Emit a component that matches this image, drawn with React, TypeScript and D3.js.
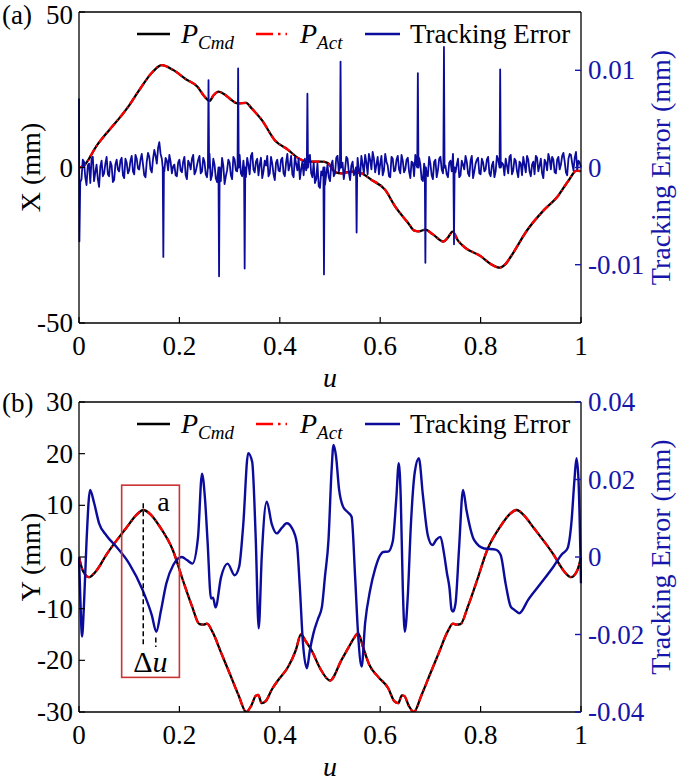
import React from 'react';
import * as d3 from 'd3';

// ---------- tick values ----------
const xTicks = [0, 0.2, 0.4, 0.6, 0.8, 1];
const xTickLabels = ['0', '0.2', '0.4', '0.6', '0.8', '1'];
const topLeftTicks = [-50, 0, 50];
const topRightTicks = [-0.01, 0, 0.01];
const topRightTickLabels = ['-0.01', '0', '0.01'];
const botLeftTicks = [-30, -20, -10, 0, 10, 20, 30];
const botRightTicks = [-0.04, -0.02, 0, 0.02, 0.04];
const botRightTickLabels = ['-0.04', '-0.02', '0', '0.02', '0.04'];

// ---------- panel (a): X position ----------
const xPosU = [0, 0.007, 0.014, 0.034, 0.06, 0.08, 0.1, 0.12, 0.147, 0.165, 0.187, 0.213, 0.236, 0.25, 0.26, 0.268, 0.278, 0.29, 0.3, 0.316, 0.333, 0.344, 0.364, 0.39, 0.417, 0.437, 0.457, 0.483, 0.495, 0.51, 0.523, 0.543, 0.563, 0.583, 0.61, 0.63, 0.656, 0.667, 0.677, 0.69, 0.705, 0.726, 0.735, 0.744, 0.755, 0.767, 0.8, 0.82, 0.838, 0.85, 0.86, 0.893, 0.926, 0.953, 0.976, 0.991, 1.0];
const xPosV = [0, 0.3, 1.4, 6.7, 12, 15.8, 20, 24.9, 30.8, 32.9, 31.4, 28.4, 26, 22.8, 21.4, 23.2, 24.4, 23.5, 22.2, 20.6, 20.8, 19, 15.3, 8.8, 5.6, 3, 1.9, 1.9, 1.5, -1.5, -1.9, -1.3, -1.9, -4, -7.2, -12.6, -17.9, -20.2, -20.5, -20.0, -21.5, -23.8, -22.5, -20.6, -23.5, -25.5, -28.5, -31, -32.2, -31, -28.7, -20.1, -13.7, -9.4, -4, -1, -1.2];

// tracking error noise (units of 1e-4 mm), sampled at u = i*0.005
const xErrNoise = [
  0, -12, 6, -18, 4, 9, -14, 3, -20, 7,
  -6, 11, -9, 2, -13, 8, -4, 10, -11, 5,
  -3, 12, -7, 9, -2, 14, -8, 6, 11, -5,
  18, 4, 26, 9, -4, 7, 13, -6, 3, -9,
  8, -5, 11, -12, 4, 9, -7, 2, 12, -4,
  6, -10, 14, -8, 3, -15, -6, 10, -17, -3,
  5, -12, 8, -4, 13, -9, 2, 10, -7, 15,
  -5, 9, 3, -11, 7, 12, -6, 4, -13, 8,
  -4, 10, -9, 14, 2, -7, 11, -3, -12, 6,
  9, -5, 13, -10, -16, 4, -21, -8, -18, 3,
  -14, 7, -6, 12, -11, 5, -2, 9, -13, 6,
  -4, 10, -9, 3, 13, -7, 8, 16, -5, 11,
  4, -8, 14, 2, -10, 9, -3, 12, -6, 7,
  -2, 10, -11, 5, 13, -7, 3, -14, 6, -9,
  4, -12, 8, -3, 11, -6, 2, -10, 7, 14,
  -5, 9, -8, 3, 12, -6, 7, -11, 4, 10,
  -7, 5, -2, 11, -9, 6, -4, 8, -12, 3,
  9, -6, 13, -3, 7, -10, 4, 11, -5, 8,
  -9, 6, 12, -4, 9, -11, 5, 14, -2, 8,
  -6, 11, 3, 15, -5, 9, 13, -3, 16, 7,
  0,
];
// in-between noise samples (units of 1e-4 mm), at u = 0.0025 + i*0.005
const xErrNoiseMid = [
  -15, 8, -10, 2, -16, 11, -5, -12, 1, -9,
  4, -7, 6, -15, 3, -2, 7, -8, 9, -6,
  7, -4, 13, -1, 8, 3, -10, 15, -2, 9,
  12, 20, 14, -2, 10, -3, 6, 1, -8, 5,
  -3, 6, -8, 7, -2, 13, -4, 8, -6, 10,
  -7, 5, -13, 9, -11, -4, -14, 2, -9, 8,
  -8, 11, -3, 9, -6, 7, -10, 3, 12, -2,
  6, -8, 10, -4, 2, -9, 11, -7, 5, -3,
  8, -6, 5, -3, 12, -10, 4, 9, -2, -8,
  -3, 10, -6, 5, -12, -19, -4, -15, -7, -10,
  3, -9, 10, -4, 8, -12, 11, -5, 2, -8,
  7, -3, 12, -6, 5, 14, -2, 9, 3, -7,
  12, -3, 6, -9, 11, -4, 8, -2, 13, -5,
  8, -4, 6, -9, 2, 10, -12, 4, -6, 11,
  -8, 6, -10, 9, -2, 12, -7, 5, -4, 8,
  3, -10, 7, -2, 6, -9, 12, -4, 8, -6,
  9, -4, 8, -6, 2, -10, 12, -3, 5, -8,
  2, 11, -7, 9, -4, 6, -8, 3, 12, -4,
  3, -7, 10, 2, -6, 8, -3, 9, 11, -5,
  8, -2, 12, 6, -8, 14, 4, 10, -2, 5,
];
const xErrStep = 0.005;
const xErrStartU = [0, 0.0008];
const xErrStartE = [0.0071, -0.0076];
const xSpikeU = [0.168, 0.258, 0.279, 0.317, 0.33, 0.455, 0.488, 0.521, 0.553, 0.675, 0.69, 0.727, 0.747, 0.839];
const xSpikeE = [-0.0092, 0.009, -0.0112, 0.0102, -0.0104, 0.0076, -0.011, 0.0109, -0.0067, 0.0097, -0.0098, 0.0124, -0.0079, 0.0101];

// ---------- panel (b): Y position ----------
const yPosU = [0, 0.007, 0.02, 0.035, 0.055, 0.094, 0.115, 0.128, 0.142, 0.16, 0.187, 0.207, 0.225, 0.24, 0.248, 0.255, 0.266, 0.283, 0.3, 0.318, 0.333, 0.343, 0.352, 0.357, 0.364, 0.372, 0.385, 0.397, 0.417, 0.432, 0.442, 0.453, 0.463, 0.48, 0.5, 0.523, 0.537, 0.547, 0.556, 0.566, 0.578, 0.596, 0.616, 0.628, 0.636, 0.643, 0.648, 0.657, 0.667, 0.682, 0.7, 0.717, 0.734, 0.745, 0.752, 0.76, 0.775, 0.793, 0.813, 0.84, 0.858, 0.872, 0.885, 0.906, 0.945, 0.965, 0.98, 0.993, 1.0];
const yPosV = [0, -2.5, -3.9, -2.6, 0.5, 5.6, 8.2, 9.1, 8.3, 6.0, 1.3, -4.5, -9.5, -13.0, -13.1, -12.9, -14.5, -18.5, -22.5, -26.8, -30, -28.8, -26.9, -26.7, -28.3, -27.9, -25.5, -23.8, -21.2, -18, -15, -16.5, -18, -21.5, -23.9, -19.9, -17.5, -15.8, -14.8, -17.5, -20.8, -23.2, -25.4, -27.9, -28.3, -26.8, -26.9, -28.8, -30, -26.8, -22.5, -18.5, -14.5, -12.9, -13.1, -13.0, -9.5, -4.5, 1.3, 6.0, 8.3, 9.1, 8.2, 5.6, 0.5, -2.6, -3.9, -2.5, 0];

const yErrU = [0, 0.003, 0.006, 0.01, 0.015, 0.022, 0.03, 0.04, 0.055, 0.074, 0.1, 0.127, 0.145, 0.154, 0.163, 0.174, 0.188, 0.205, 0.215, 0.226, 0.237, 0.245, 0.251, 0.256, 0.263, 0.267, 0.272, 0.283, 0.296, 0.31, 0.319, 0.327, 0.337, 0.345, 0.352, 0.358, 0.364, 0.374, 0.384, 0.394, 0.404, 0.414, 0.424, 0.434, 0.44, 0.446, 0.454, 0.46, 0.467, 0.476, 0.484, 0.49, 0.497, 0.503, 0.507, 0.512, 0.518, 0.526, 0.536, 0.543, 0.55, 0.556, 0.563, 0.57, 0.58, 0.59, 0.6, 0.606, 0.616, 0.625, 0.632, 0.637, 0.641, 0.645, 0.649, 0.655, 0.661, 0.669, 0.677, 0.685, 0.695, 0.704, 0.712, 0.72, 0.727, 0.733, 0.738, 0.742, 0.745, 0.75, 0.757, 0.765, 0.772, 0.787, 0.807, 0.83, 0.84, 0.85, 0.86, 0.868, 0.877, 0.895, 0.92, 0.945, 0.962, 0.973, 0.981, 0.987, 0.991, 0.995, 1.0];
const yErrE = [0, -0.012, -0.0205, -0.012, 0.004, 0.0173, 0.014, 0.0087, 0.0055, 0.0027, -0.0017, -0.0086, -0.015, -0.0193, -0.014, -0.0068, -0.002, 0.0, -0.0008, -0.0017, 0.005, 0.0215, 0.015, 0.0043, -0.0107, -0.0105, -0.013, -0.0052, -0.0017, -0.0047, -0.0025, 0.008, 0.0268, 0.0245, 0.005, -0.0184, 0.0, 0.0143, 0.0085, 0.0061, 0.0075, 0.0087, 0.0075, 0.0035, -0.008, -0.022, -0.0287, -0.024, -0.0197, -0.016, -0.0128, -0.005, 0.0044, 0.022, 0.0289, 0.026, 0.0175, 0.013, 0.0115, 0.0104, -0.005, -0.02, -0.0283, -0.017, -0.0085, -0.003, 0.0005, 0.0013, 0.0014, 0.004, 0.015, 0.0242, 0.015, -0.008, -0.0193, -0.01, 0.008, 0.022, 0.0255, 0.016, 0.0055, 0.0031, 0.0045, 0.0052, 0.001, -0.0042, -0.008, -0.0135, -0.0141, -0.012, 0.002, 0.0173, 0.012, 0.0044, 0.0022, 0.0019, 0.0005, -0.007, -0.0128, -0.0137, -0.0145, -0.011, -0.0068, -0.0025, 0.0007, 0.0022, 0.009, 0.02, 0.0255, 0.02, -0.0068];

// annotation (panel b)
const boxU = [0.085, 0.2];
const boxV = [13.9, -23.3];
const peakU = 0.128;
const peakLineV = [10.4, -17.4];
const errMinU = 0.153;
const errMinLineV = [-15.6, -17.4];

// ---------- layout ----------
const W = 685, H = 781;
const L = 79, R = 581;
const FONT = 'Liberation Serif, Tinos, DejaVu Serif, Times New Roman, serif';
const BLUE = '#0c0c9c';
const BLUE_TXT = '#1616aa';

type Pt = [number, number];

function Panel(props: {
  top: number; bottom: number; leftDomain: [number, number]; rightDomain: [number, number];
  leftTicks: number[]; rightTicks: number[]; rightTickLabels: string[];
  posU: number[]; posV: number[]; errPts: Pt[]; errWidth: number; smoothErr: boolean;
  yLabel: string; tag: string; id: string; children?: (x: any, yl: any, yr: any) => React.ReactNode;
}) {
  const { top, bottom } = props;
  const x = d3.scaleLinear().domain([0, 1]).range([L, R]);
  const yl = d3.scaleLinear().domain(props.leftDomain).range([bottom, top]);
  const yr = d3.scaleLinear().domain(props.rightDomain).range([bottom, top]);
  const posPts: Pt[] = props.posU.map((u, i) => [u, props.posV[i]]);
  const posLine = d3.line<Pt>().x(d => x(d[0])).y(d => yl(d[1])).curve(d3.curveMonotoneX);
  const errLine = d3.line<Pt>().x(d => x(d[0])).y(d => yr(d[1]))
    .curve(props.smoothErr ? d3.curveMonotoneX : d3.curveLinear);
  const mid = (top + bottom) / 2;
  const legY = top + 22;
  const legBase = top + 31;
  const txt = { fontFamily: FONT };
  return (
    <g>
      <defs>
        <clipPath id={props.id}>
          <rect x={L - 1} y={top} width={R - L + 2} height={bottom - top} />
        </clipPath>
      </defs>
      <g clipPath={`url(#${props.id})`}>
        <path d={posLine(posPts) || ''} fill="none" stroke="#000" strokeWidth={2.3} />
        <path d={posLine(posPts) || ''} fill="none" stroke="#ff0000" strokeWidth={2.3} strokeDasharray="8,3.5,1.5,3.5" />
        <path d={errLine(props.errPts) || ''} fill="none" stroke={BLUE} strokeWidth={props.errWidth} strokeLinejoin="round" />
      </g>
      {props.children && props.children(x, yl, yr)}
      {/* frame */}
      <line x1={L} x2={R} y1={top} y2={top} stroke="#000" strokeWidth={1.3} />
      <line x1={L} x2={R} y1={bottom} y2={bottom} stroke="#000" strokeWidth={1.3} />
      <line x1={L} x2={L} y1={top} y2={bottom} stroke="#000" strokeWidth={1.3} />
      <line x1={R} x2={R} y1={top} y2={bottom} stroke="#000" strokeWidth={1.3} />
      {/* x ticks */}
      {xTicks.map((t, i) => (
        <g key={'xt' + i}>
          <line x1={x(t)} x2={x(t)} y1={bottom} y2={bottom - 6} stroke="#000" strokeWidth={1.2} />
          <text x={x(t)} y={bottom + 32} textAnchor="middle" style={txt} fontSize={27}>{xTickLabels[i]}</text>
        </g>
      ))}
      <text x={x(0.5)} y={bottom + 64} textAnchor="middle" style={txt} fontSize={28} fontStyle="italic">u</text>
      {/* left ticks */}
      {props.leftTicks.map((t, i) => (
        <g key={'lt' + i}>
          <line x1={L} x2={L + 6} y1={yl(t)} y2={yl(t)} stroke="#000" strokeWidth={1.2} />
          <text x={73} y={Math.max(yl(t) + 9, 24)} textAnchor="end" style={txt} fontSize={27}>{String(t)}</text>
        </g>
      ))}
      {/* right ticks */}
      {props.rightTicks.map((t, i) => (
        <g key={'rt' + i}>
          <line x1={R} x2={R - 6} y1={yr(t)} y2={yr(t)} stroke={BLUE_TXT} strokeWidth={1.4} />
          <text x={588} y={yr(t) + 9} textAnchor="start" style={txt} fontSize={27} fill={BLUE_TXT}>{props.rightTickLabels[i]}</text>
        </g>
      ))}
      <text transform={`translate(40,${mid}) rotate(-90)`} textAnchor="middle" style={txt} fontSize={28}>{props.yLabel}</text>
      <text transform={`translate(670,${mid}) rotate(-90)`} textAnchor="middle" style={txt} fontSize={28} fill={BLUE_TXT}>Tracking Error (mm)</text>
      <text x={2} y={Math.max(top + 10, 24)} style={txt} fontSize={27}>{props.tag}</text>
      {/* legend */}
      <line x1={137} x2={170} y1={legY} y2={legY} stroke="#000" strokeWidth={2.3} />
      <text x={181} y={legBase} style={txt} fontSize={28} fontStyle="italic">P<tspan fontSize={19} dy={6}>Cmd</tspan></text>
      <line x1={256} x2={287} y1={legY} y2={legY} stroke="#ff0000" strokeWidth={2.3} strokeDasharray="17,5,2.5,5" />
      <text x={300} y={legBase} style={txt} fontSize={28} fontStyle="italic">P<tspan fontSize={19} dy={6}>Act</tspan></text>
      <line x1={365} x2={400} y1={legY} y2={legY} stroke={BLUE} strokeWidth={2.3} />
      <text x={410} y={legBase} style={txt} fontSize={27}>Tracking Error</text>
    </g>
  );
}

export default function App() {
  // panel (a) tracking error: noise samples + narrow spikes
  const spikeHalf = 0.0012;
  const pts: Pt[] = [];
  xErrStartU.forEach((u, i) => pts.push([u, xErrStartE[i]]));
  const nearSpike = (u: number) => xSpikeU.some(s => Math.abs(s - u) < 0.0016);
  xErrNoise.forEach((v, i) => {
    const u = i * xErrStep;
    if (i === 0 || nearSpike(u)) return;
    pts.push([u, v * 1e-4]);
  });
  xErrNoiseMid.forEach((v, i) => {
    const u = 0.0025 + i * xErrStep;
    if (nearSpike(u)) return;
    pts.push([u, v * 1e-4]);
  });
  xSpikeU.forEach((s, i) => {
    pts.push([s - spikeHalf, 0]);
    pts.push([s, xSpikeE[i]]);
    pts.push([s + spikeHalf, 0]);
  });
  pts.sort((a, b) => a[0] - b[0]);

  const yErrPts: Pt[] = yErrU.map((u, i) => [u, yErrE[i]]);
  const txt = { fontFamily: FONT };

  return (
    <svg width={W} height={H} style={{ position: 'absolute', left: 0, top: 0, background: '#fff' }}>
      <rect x={0} y={0} width={W} height={H} fill="#fff" />
      <Panel top={12} bottom={323} leftDomain={[-50, 50]} rightDomain={[-0.016, 0.016]}
        leftTicks={topLeftTicks} rightTicks={topRightTicks} rightTickLabels={topRightTickLabels}
        posU={xPosU} posV={xPosV} errPts={pts} errWidth={1.8} smoothErr={false}
        yLabel="X (mm)" tag="(a)" id="clipA" />
      <Panel top={402} bottom={712} leftDomain={[-30, 30]} rightDomain={[-0.04, 0.04]}
        leftTicks={botLeftTicks} rightTicks={botRightTicks} rightTickLabels={botRightTickLabels}
        posU={yPosU} posV={yPosV} errPts={yErrPts} errWidth={2.4} smoothErr={true}
        yLabel="Y (mm)" tag="(b)" id="clipB">
        {(x: any, yl: any) => (
          <g>
            <rect x={x(boxU[0])} y={yl(boxV[0])} width={x(boxU[1]) - x(boxU[0])} height={yl(boxV[1]) - yl(boxV[0])}
              fill="none" stroke="#cc3333" strokeWidth={1.6} />
            <line x1={x(peakU)} x2={x(peakU)} y1={yl(peakLineV[0])} y2={yl(peakLineV[1])} stroke="#000" strokeWidth={1.5} strokeDasharray="5,3" />
            <line x1={x(errMinU)} x2={x(errMinU)} y1={yl(errMinLineV[0])} y2={yl(errMinLineV[1])} stroke="#000" strokeWidth={1.5} strokeDasharray="5,3" />
            <text x={x(peakU) + 14} y={yl(10.4) + 8} style={txt} fontSize={28}>a</text>
            <text x={x(0.142)} y={yl(-22.3)} textAnchor="middle" style={txt} fontSize={30}>Δ<tspan fontStyle="italic">u</tspan></text>
          </g>
        )}
      </Panel>
    </svg>
  );
}
